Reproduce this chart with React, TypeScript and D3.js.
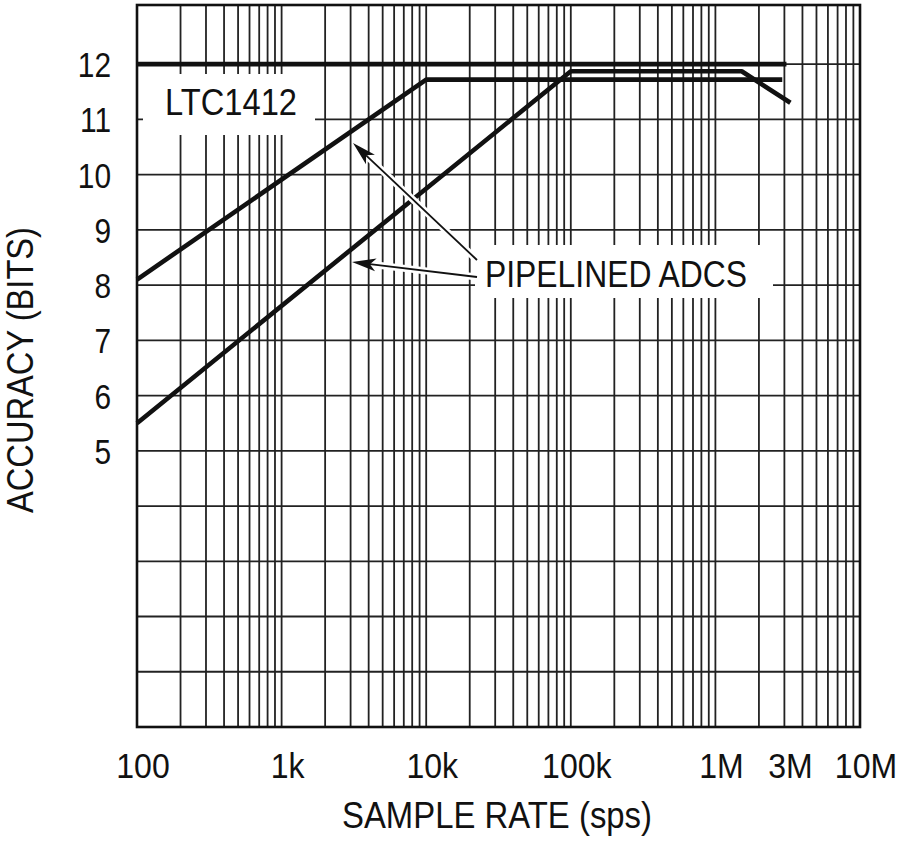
import React from "react";
import * as d3 from "d3";

// ---- data ----
const xTickValues = [100, 1e3, 1e4, 1e5, 1e6, 3e6, 1e7];
const xTickLabels = ["100", "1k", "10k", "100k", "1M", "3M", "10M"];
const yTickValues = [5, 6, 7, 8, 9, 10, 11, 12];
const yGridValues = [0, 1, 2, 3, 4, 5, 6, 7, 8, 9, 10, 11, 12];

const ltcRate = [100, 3.1e6];
const ltcBits = [12, 12];
const pipeARate = [100, 1e4, 2.9e6];
const pipeABits = [8.1, 11.72, 11.72];
const pipeBRate = [100, 1e5, 1.52e6, 3.3e6];
const pipeBBits = [5.5, 11.87, 11.87, 11.3];

const xTitle = "SAMPLE RATE (sps)";
const yTitle = "ACCURACY (BITS)";
const ltcLabel = "LTC1412";
const pipeLabel = "PIPELINED ADCS";

// ---- layout ----
const W = 900, H = 845;
const L = 137, R = 860, T = 5, B = 727;
const FONT = "'Liberation Sans', Arial, sans-serif";

const x = d3.scaleLog().domain([100, 1e7]).range([L, R]);
const y = d3.scaleLinear().domain([0, 13.07]).range([B, T]);

const minorX: number[] = [];
for (let e = 2; e < 7; e++) for (let m = 1; m <= 9; m++) minorX.push(m * Math.pow(10, e));
minorX.push(1e7);

const line = d3.line<[number, number]>().x(d => x(d[0])).y(d => y(d[1]));
const zip = (a: number[], b: number[]) => a.map((v, i) => [v, b[i]] as [number, number]);

function Arrow({ x1, y1, x2, y2 }: { x1: number; y1: number; x2: number; y2: number }) {
  const ang = Math.atan2(y2 - y1, x2 - x1);
  const len = 24, hw = 6.5, notch = 18;
  const ux = Math.cos(ang), uy = Math.sin(ang);
  const px = -uy, py = ux;
  const bx = x2 - ux * len, by = y2 - uy * len;
  const nx = x2 - ux * notch, ny = y2 - uy * notch;
  const head = `M${x2},${y2} L${bx + px * hw},${by + py * hw} L${nx},${ny} L${bx - px * hw},${by - py * hw} Z`;
  return (
    <g>
      <line x1={x1} y1={y1} x2={nx} y2={ny} stroke="#111" strokeWidth={1.8} />
      <path d={head} fill="#111" />
    </g>
  );
}

export default function App() {
  const arrows = [
    { x1: 477, y1: 260, x2: 353, y2: 143 },
    { x1: 477, y1: 277, x2: 352, y2: 262 },
  ];
  return (
    <div style={{ position: "absolute", left: 0, top: 0 }}>
      <svg width={W} height={H} viewBox={`0 0 ${W} ${H}`} style={{ display: "block", background: "#fff" }}>
        <rect x={0} y={0} width={W} height={H} fill="#fff" />
        {/* grid */}
        <g stroke="#222" strokeWidth={1.8}>
          {minorX.map((v, i) => (
            <line key={"vx" + i} x1={x(v)} x2={x(v)} y1={T} y2={B} />
          ))}
          {yGridValues.map((v, i) => (
            <line key={"hy" + i} x1={L} x2={R} y1={y(v)} y2={y(v)} />
          ))}
        </g>
        {/* label backgrounds */}
        <rect x={143} y={74} width={172} height={61} fill="#fff" />
        <rect x={475} y={245} width={298} height={53} fill="#fff" />
        {/* frame */}
        <rect x={L} y={T} width={R - L} height={B - T} fill="none" stroke="#111" strokeWidth={2.6} />
        {/* curves */}
        <g fill="none" stroke="#111" strokeWidth={4.6} strokeLinejoin="round">
          <path d={line(zip(ltcRate, ltcBits)) || ""} />
          <path d={line(zip(pipeARate, pipeABits)) || ""} />
          <path d={line(zip(pipeBRate, pipeBBits)) || ""} />
        </g>
        {/* arrow halos */}
        {arrows.map((a, i) => (
          <line key={"h" + i} x1={a.x1} y1={a.y1} x2={a.x2 + (a.x1 - a.x2) * 0.06} y2={a.y2 + (a.y1 - a.y2) * 0.06}
            stroke="#fff" strokeWidth={7} />
        ))}
        {arrows.map((a, i) => (
          <Arrow key={"a" + i} {...a} />
        ))}
        {/* annotation text */}
        <text x={165} y={115} fontFamily={FONT} fontSize={36} fill="#111" textLength={132} lengthAdjust="spacingAndGlyphs">
          {ltcLabel}
        </text>
        <text x={485} y={287} fontFamily={FONT} fontSize={36} fill="#111" textLength={262} lengthAdjust="spacingAndGlyphs">
          {pipeLabel}
        </text>
        {/* y ticks */}
        <g fontFamily={FONT} fontSize={36} fill="#111" textAnchor="end">
          {yTickValues.map(v => (
            <text key={"yt" + v} transform={`translate(111,${y(v) + 13}) scale(0.83,1)`}>{v}</text>
          ))}
        </g>
        {/* x ticks */}
        <g fontFamily={FONT} fontSize={36} fill="#111" textAnchor="middle">
          {xTickValues.map((v, i) => (
            <text key={"xt" + i} transform={`translate(${x(v) + 6},778) scale(0.89,1)`}>{xTickLabels[i]}</text>
          ))}
        </g>
        {/* titles */}
        <text x={497} y={828} fontFamily={FONT} fontSize={36} fill="#111" textAnchor="middle" textLength={310} lengthAdjust="spacingAndGlyphs">
          {xTitle}
        </text>
        <text transform="translate(33,370) rotate(-90)" fontFamily={FONT} fontSize={36} fill="#111" textAnchor="middle" textLength={286} lengthAdjust="spacingAndGlyphs">
          {yTitle}
        </text>
      </svg>
    </div>
  );
}
